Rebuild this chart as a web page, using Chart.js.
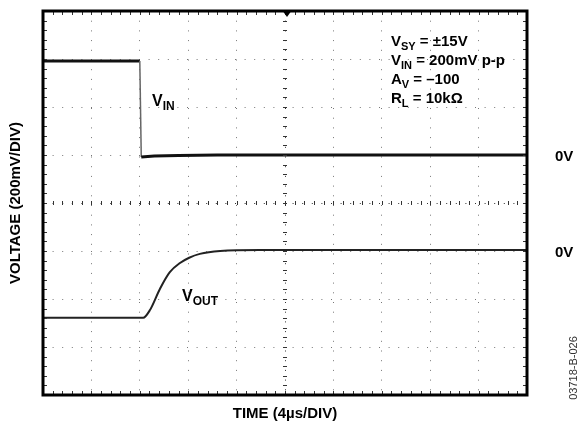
<!DOCTYPE html>
<html>
<head>
<meta charset="utf-8">
<script src="https://cdn.jsdelivr.net/npm/chart.js@4.4.1/dist/chart.umd.min.js"></script>
<style>
  html, body { margin: 0; padding: 0; background: white; }
  #wrap { width: 583px; height: 426px; position: relative; }
</style>
</head>
<body>
<div id="wrap"><canvas id="scope"></canvas></div>
<script>
// time in divisions (4us/div), voltage in divisions (200mV/div)
const vinTime = [0, 2.0, 2.03, 2.3, 2.8, 3.6, 10];
const vinLevel = [2.96, 2.96, 0.96, 0.98, 0.99, 1.0, 1.0];

const voutTime = [0, 2.07, 2.21, 2.42, 2.62, 2.83, 3.02, 3.24, 3.66, 4.48, 10];
const voutLevel = [-2.39, -2.39, -2.23, -1.78, -1.44, -1.25, -1.14, -1.06, -1.00, -0.98, -0.98];

const xTicks = [0, 1, 2, 3, 4, 5, 6, 7, 8, 9, 10];
const yTicks = [-4, -3, -2, -1, 0, 1, 2, 3, 4];

const notes = [
  ['V', 'SY', ' = \u00b115V'],
  ['V', 'IN', ' = 200mV p-p'],
  ['A', 'V', ' = \u2013100'],
  ['R', 'L', ' = 10k\u03a9']
];

const FONT = '"Liberation Sans", Arial, sans-serif';

function toPoints(xs, ys) {
  return xs.map(function(x, i) { return { x: x, y: ys[i] }; });
}

function subText(ctx, x, y, main, sub, rest, size) {
  ctx.font = 'bold ' + size + 'px ' + FONT;
  ctx.fillText(main, x, y);
  x += ctx.measureText(main).width;
  ctx.font = 'bold ' + Math.round(size * 0.75) + 'px ' + FONT;
  ctx.fillText(sub, x, y + 4);
  x += ctx.measureText(sub).width;
  if (rest) {
    ctx.font = 'bold ' + size + 'px ' + FONT;
    ctx.fillText(rest, x, y);
  }
}

const scopeDecor = {
  id: 'scopeDecor',
  afterDatasetsDraw(chart) {
    const ctx = chart.ctx;
    const a = chart.chartArea;
    const xs = chart.scales.x, ys = chart.scales.y;
    ctx.save();
    ctx.strokeStyle = '#333';
    ctx.lineWidth = 1;
    // minor ticks on the borders and center axes
    for (let i = 0; i <= 50; i++) {
      const px = Math.round(xs.getPixelForValue(i / 5)) + 0.5;
      ctx.beginPath();
      ctx.moveTo(px, a.top); ctx.lineTo(px, a.top + 4);
      ctx.moveTo(px, a.bottom); ctx.lineTo(px, a.bottom - 4);
      const cy = ys.getPixelForValue(0);
      ctx.moveTo(px, cy - 2); ctx.lineTo(px, cy + 2);
      ctx.stroke();
    }
    for (let i = -20; i <= 20; i++) {
      const py = Math.round(ys.getPixelForValue(i / 5)) + 0.5;
      ctx.beginPath();
      ctx.moveTo(a.left, py); ctx.lineTo(a.left + 4, py);
      ctx.moveTo(a.right, py); ctx.lineTo(a.right - 4, py);
      const cx = xs.getPixelForValue(5);
      ctx.moveTo(cx - 2, py); ctx.lineTo(cx + 2, py);
      ctx.stroke();
    }
    // frame
    ctx.strokeStyle = '#000';
    ctx.lineWidth = 3;
    ctx.strokeRect(a.left, a.top, a.right - a.left, a.bottom - a.top);
    // trigger marker
    const tx = xs.getPixelForValue(5) + 2;
    ctx.fillStyle = '#000';
    ctx.beginPath();
    ctx.moveTo(tx - 5, a.top - 1);
    ctx.lineTo(tx + 5, a.top - 1);
    ctx.lineTo(tx, a.top + 6);
    ctx.closePath();
    ctx.fill();

    // texts
    ctx.fillStyle = '#000';
    ctx.textBaseline = 'alphabetic';
    ctx.textAlign = 'left';
    notes.forEach(function(n, i) {
      subText(ctx, 391, 46 + i * 19, n[0], n[1], n[2], 15);
    });
    subText(ctx, 152, 106, 'V', 'IN', '', 16);
    subText(ctx, 182, 301, 'V', 'OUT', '', 16);

    ctx.font = 'bold 15px ' + FONT;
    ctx.fillText('0V', 555, ys.getPixelForValue(1) + 6);
    ctx.fillText('0V', 555, ys.getPixelForValue(-1) + 6);

    ctx.textAlign = 'center';
    ctx.font = 'bold 15px ' + FONT;
    ctx.fillText('TIME (4\u00b5s/DIV)', 285, 418);

    ctx.save();
    ctx.translate(20, 203);
    ctx.rotate(-Math.PI / 2);
    ctx.font = 'bold 15px ' + FONT;
    ctx.fillText('VOLTAGE (200mV/DIV)', 0, 0);
    ctx.restore();

    ctx.save();
    ctx.translate(577, 368);
    ctx.rotate(-Math.PI / 2);
    ctx.font = '11px ' + FONT;
    ctx.fillStyle = '#333';
    ctx.fillText('03718-B-026', 0, 0);
    ctx.restore();
    ctx.restore();
  }
};

const gridStyle = {
  color: function(c) { return (c.tick && c.tick.value === 0 && c.scale.axis === 'y') || (c.tick && c.tick.value === 5 && c.scale.axis === 'x') ? '#333' : '#777'; },
  lineWidth: 1,
  drawTicks: false
};

new Chart(document.getElementById('scope'), {
  type: 'line',
  data: {
    datasets: [
      {
        label: 'VIN',
        data: toPoints(vinTime, vinLevel),
        borderColor: '#111',
        borderWidth: 3,
        pointRadius: 0,
        tension: 0,
        segment: {
          borderWidth: function(c) { return c.p0DataIndex === 1 ? 1.5 : 3; },
          borderColor: function(c) { return c.p0DataIndex === 1 ? '#666' : '#111'; }
        }
      },
      {
        label: 'VOUT',
        data: toPoints(voutTime, voutLevel),
        borderColor: '#222',
        borderWidth: 2,
        pointRadius: 0,
        cubicInterpolationMode: 'monotone'
      }
    ]
  },
  options: {
    responsive: true,
    maintainAspectRatio: false,
    animation: false,
    layout: { padding: { left: 43, right: 56, top: 11, bottom: 31 } },
    plugins: { legend: { display: false }, tooltip: { enabled: false } },
    scales: {
      x: {
        type: 'linear',
        min: 0, max: 10,
        afterBuildTicks: function(s) { s.ticks = xTicks.map(function(v) { return { value: v }; }); },
        ticks: { display: false },
        border: { display: false, dash: [1, 8.7] },
        grid: gridStyle
      },
      y: {
        type: 'linear',
        min: -4, max: 4,
        afterBuildTicks: function(s) { s.ticks = yTicks.map(function(v) { return { value: v }; }); },
        ticks: { display: false },
        border: { display: false, dash: [1, 8.6] },
        grid: gridStyle
      }
    }
  },
  plugins: [scopeDecor]
});
</script>
</body>
</html>
